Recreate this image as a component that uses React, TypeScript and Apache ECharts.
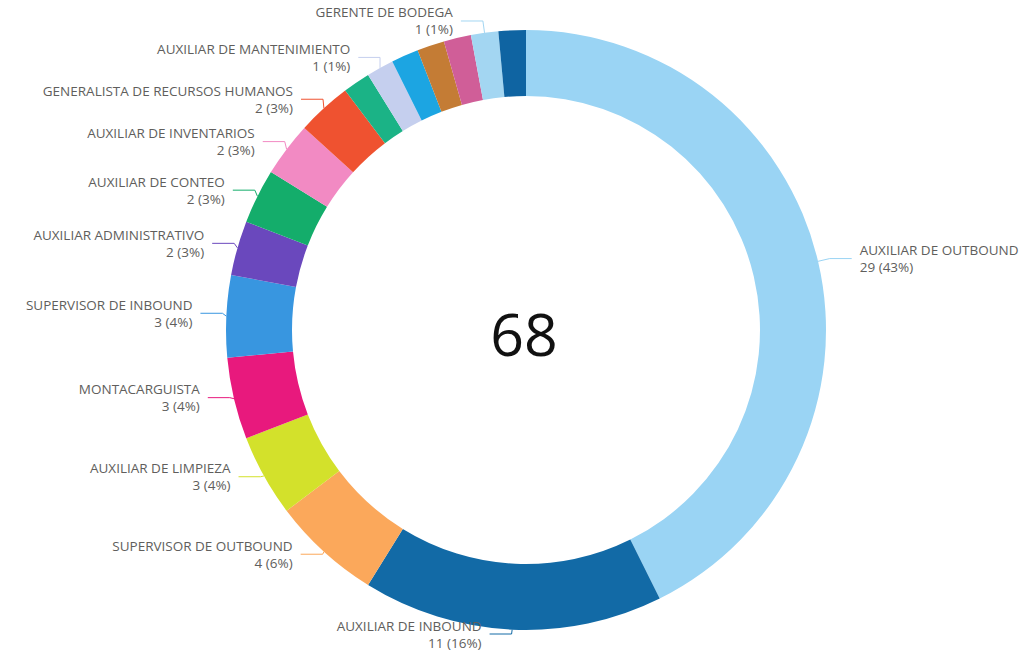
import React, { useEffect, useRef } from 'react';
import * as echarts from 'echarts';

const categories = [
  'AUXILIAR DE OUTBOUND',
  'AUXILIAR DE INBOUND',
  'SUPERVISOR DE OUTBOUND',
  'AUXILIAR DE LIMPIEZA',
  'MONTACARGUISTA',
  'SUPERVISOR DE INBOUND',
  'AUXILIAR ADMINISTRATIVO',
  'AUXILIAR DE CONTEO',
  'AUXILIAR DE INVENTARIOS',
  'GENERALISTA DE RECURSOS HUMANOS',
  'AUXILIAR DE CALIDAD',
  'AUXILIAR DE MANTENIMIENTO',
  'AUXILIAR DE RECIBO',
  'COORDINADOR DE OPERACIONES',
  'COORDINADOR DE TRANSPORTE',
  'GERENTE DE BODEGA',
  'JEFE DE ALMACÉN',
];
const values = [29, 11, 4, 3, 3, 3, 2, 2, 2, 2, 1, 1, 1, 1, 1, 1, 1];
const colors = [
  '#9ad4f4', '#126aa6', '#fba85b', '#d3e12b', '#e8197d', '#3896e0',
  '#6a48bd', '#14ad6b', '#f28ac3', '#ef5230', '#1bb386', '#c5cfee',
  '#1ca5e2', '#c47c35', '#d05e98', '#a3d6f2', '#0f64a2',
];
const labelShown = [
  true, true, true, true, true, true, true, true, true, true,
  false, true, false, false, false, true, false,
];

const total = values.reduce((a, b) => a + b, 0);

export default function App() {
  const ref = useRef<HTMLDivElement>(null);
  useEffect(() => {
    if (!ref.current) return;
    const chart = echarts.init(ref.current, undefined, { renderer: 'svg' });
    const data = categories.map((name, i) => ({
      name,
      value: values[i],
      itemStyle: { color: colors[i] },
      label: { show: labelShown[i] },
      labelLine: { show: labelShown[i] },
    }));
    chart.setOption({
      animation: false,
      backgroundColor: '#ffffff',
      graphic: [
        {
          type: 'text',
          x: 524,
          y: 333,
          style: {
            text: String(total),
            fontSize: 59,
            fontFamily: 'Open Sans',
            fill: '#111111',
            textAlign: 'center',
            textVerticalAlign: 'middle',
          },
        },
      ],
      series: [
        {
          type: 'pie',
          center: [526, 330],
          radius: [234, 300],
          startAngle: 90,
          clockwise: true,
          avoidLabelOverlap: true,
          label: {
            show: true,
            position: 'outside',
            color: '#605E5C',
            fontFamily: 'Open Sans',
            fontSize: 13.5,
            lineHeight: 17,
            distanceToLabelLine: 8,
            bleedMargin: 0,
            overflow: 'none',
            formatter: (p: any) =>
              `${p.name}\n${p.value} (${Math.round((p.value / total) * 100)}%)`,
          },
          labelLine: {
            show: true,
            length: 12,
            length2: 22,
            lineStyle: { width: 1 },
          },
          data,
        },
      ],
    });
    return () => chart.dispose();
  }, []);
  return (
    <div
      ref={ref}
      style={{ position: 'fixed', left: 0, top: 0, width: 1030, height: 652 }}
    />
  );
}
